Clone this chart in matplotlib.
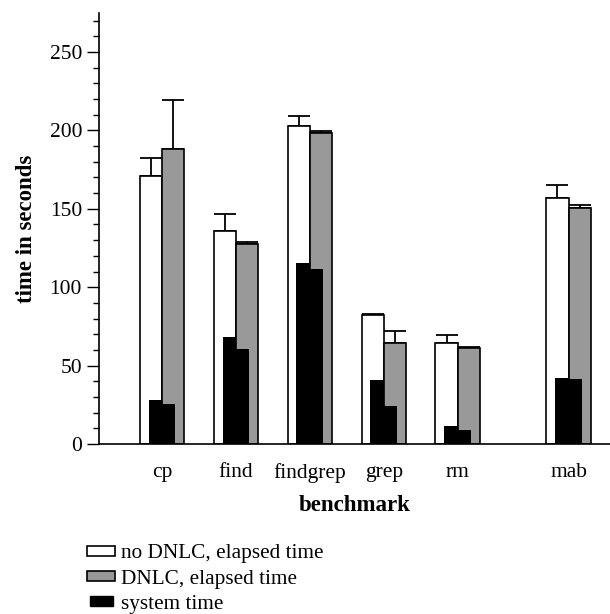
import matplotlib.pyplot as plt
from matplotlib.patches import Patch, Rectangle
from matplotlib.legend_handler import HandlerPatch
from matplotlib.ticker import MultipleLocator

plt.rcParams['font.family'] = ['Liberation Serif', 'DejaVu Serif']

benchmarks = ['cp', 'find', 'findgrep', 'grep', 'rm', 'mab']
xpos = [0, 1, 2, 3, 4, 5.5]

# elapsed times and upper error bars
nodnlc = [171, 136, 203, 82, 64.6, 156.6]
nodnlc_err = [11.6, 10.6, 6.2, 0.8, 5.1, 8.9]
dnlc = [188.3, 127.4, 198.5, 64.6, 61.2, 150.4]
dnlc_err = [30.9, 1.2, 1.3, 7.7, 0.7, 2.3]

# system time
sys_nodnlc = [28.3, 68.2, 115.2, 40.6, 11.7, 42.1]
sys_dnlc = [25.7, 60.8, 111.6, 24.4, 9.1, 41.5]

w = 0.30
sw = 0.18

fig = plt.figure(figsize=(6.1, 6.14), dpi=100)
ax = fig.add_axes([0.162, 0.277, 0.838, 0.702])

x1 = [x - w / 2 for x in xpos]
x2 = [x + w / 2 for x in xpos]
ax.bar(x1, nodnlc, w, color='white', edgecolor='black', linewidth=1.2, zorder=2)
ax.bar(x2, dnlc, w, color='#999999', edgecolor='black', linewidth=1.2, zorder=2)
ax.errorbar(x1, nodnlc, yerr=[[0] * 6, nodnlc_err], fmt='none', ecolor='black',
            elinewidth=1.3, capsize=8, capthick=1.3, zorder=1)
ax.errorbar(x2, dnlc, yerr=[[0] * 6, dnlc_err], fmt='none', ecolor='black',
            elinewidth=1.3, capsize=8, capthick=1.3, zorder=1)
ax.bar([x - sw / 2 for x in xpos], sys_nodnlc, sw, color='black', zorder=3)
ax.bar([x + sw / 2 for x in xpos], sys_dnlc, sw, color='black', zorder=3)

ax.set_xlim(-0.853, 6.06)
ax.set_ylim(0, 275)
ax.set_yticks([0, 50, 100, 150, 200, 250])
ax.yaxis.set_minor_locator(MultipleLocator(10))
ax.tick_params(axis='y', which='major', length=8.6, width=1, labelsize=15.5)
ax.tick_params(axis='y', which='minor', length=4.3, width=1)
ax.set_xticks(xpos)
ax.set_xticklabels(benchmarks)
ax.tick_params(axis='x', length=0, labelsize=15.5, pad=14)
for s in ['top', 'right']:
    ax.spines[s].set_visible(False)
for s in ['left', 'bottom']:
    ax.spines[s].set_linewidth(1.2)

ax.set_xlabel('benchmark', fontsize=16.5, fontweight='bold', labelpad=8.5)
ax.set_ylabel('time in seconds', fontsize=16.5, fontweight='bold', labelpad=9)


def small_patch(legend, orig_handle, xdescent, ydescent, width, height, fontsize):
    return Rectangle((-xdescent + width * 0.1, -ydescent), width * 0.8, height)


handles = [Patch(facecolor='white', edgecolor='black', linewidth=1.2),
           Patch(facecolor='#999999', edgecolor='black', linewidth=1.2),
           Patch(facecolor='black', edgecolor='black')]
labels = ['no DNLC, elapsed time', 'DNLC, elapsed time', 'system time']
fig.legend(handles, labels, loc='lower left', bbox_to_anchor=(0.143, 0.0),
           borderaxespad=0, borderpad=0, frameon=False, fontsize=15.3,
           handlelength=1.33, handleheight=0.35, handletextpad=0.25,
           labelspacing=0.3,
           handler_map={handles[2]: HandlerPatch(patch_func=small_patch)})

fig.savefig('out.png', dpi=100)
